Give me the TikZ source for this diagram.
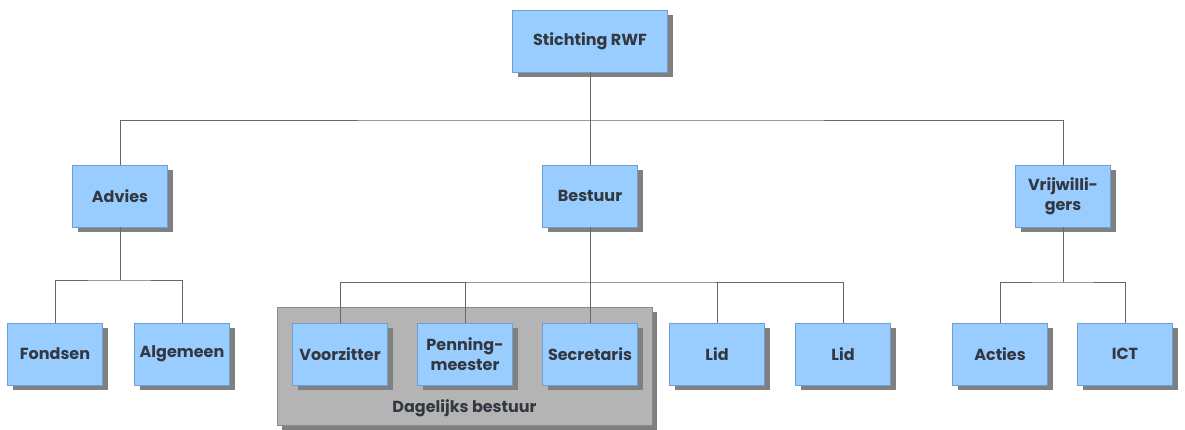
\documentclass[tikz,border=0pt]{standalone}
\usepackage{fontspec}
\setmainfont{Poppins}
\usetikzlibrary{shadows}
\definecolor{boxblue}{HTML}{99CCFF}
\definecolor{boxedge}{HTML}{6F9FD0}
\definecolor{shadowgray}{HTML}{808080}
\definecolor{txtgray}{HTML}{333740}
\definecolor{groupgray}{HTML}{B4B4B4}
\definecolor{groupedge}{HTML}{8A8A8A}
\begin{document}
\begin{tikzpicture}[x=1pt,y=-1pt,
  lbl/.style={font=\fontsize{16}{20}\selectfont\bfseries,text=txtgray},
  unit/.style={lbl,draw=boxedge,line width=0.6pt,fill=boxblue,minimum width=95pt,minimum height=62pt,
    inner sep=2pt,align=center,
    drop shadow={shadow xshift=5pt,shadow yshift=-5pt,fill=shadowgray,opacity=1}},
  conn/.style={draw=gray!80!black,line width=0.6pt}]
\useasboundingbox (0,0) rectangle (1185,430);
% group box
\node[draw=groupedge,line width=0.6pt,fill=groupgray,minimum width=375pt,minimum height=118pt,
  drop shadow={shadow xshift=5pt,shadow yshift=-5pt,fill=shadowgray,opacity=1}]
  (dag) at (464.5,366) {};
\node[lbl] (daglabel) at (464.5,408) {Dagelijks bestuur};
% junction coordinates
\coordinate (top) at (590,120);
\coordinate (ja) at (120,280);
\coordinate (jb) at (590,282);
\coordinate (jc) at (1063,282);
% units
\node[unit,minimum width=155pt] (root) at (590,41) {Stichting RWF};
\node[unit] (advies) at (120,196) {Advies};
\node[unit] (bestuur) at (590,196) {Bestuur};
\node[unit] (vrij) at (1063,196) {Vrijwilli-\\gers};
\node[unit] (fondsen) at (55,354) {Fondsen};
\node[unit] (algemeen) at (182,354) {Algemeen};
\node[unit] (voorz) at (340,354) {Voorzitter};
\node[unit] (penning) at (465,354) {Penning-\\meester};
\node[unit] (secr) at (590,354) {Secretaris};
\node[unit] (lid1) at (717,354) {Lid};
\node[unit] (lid2) at (843,354) {Lid};
\node[unit] (acties) at (1000,354) {Acties};
\node[unit] (ict) at (1125,354) {ICT};
% connectors
\draw[conn] (root.south) -- (top);
\draw[conn] (advies.north) |- (top) -| (vrij.north);
\draw[conn] (top) -- (bestuur.north);
\draw[conn] (advies.south) -- (ja);
\draw[conn] (fondsen.north) |- (ja) -| (algemeen.north);
\draw[conn] (bestuur.south) -- (jb);
\draw[conn] (voorz.north) |- (jb) -| (lid2.north);
\draw[conn] (penning.north) -- (penning.north |- jb);
\draw[conn] (secr.north) -- (jb);
\draw[conn] (lid1.north) -- (lid1.north |- jb);
\draw[conn] (vrij.south) -- (jc);
\draw[conn] (acties.north) |- (jc) -| (ict.north);
\end{tikzpicture}
\end{document}
